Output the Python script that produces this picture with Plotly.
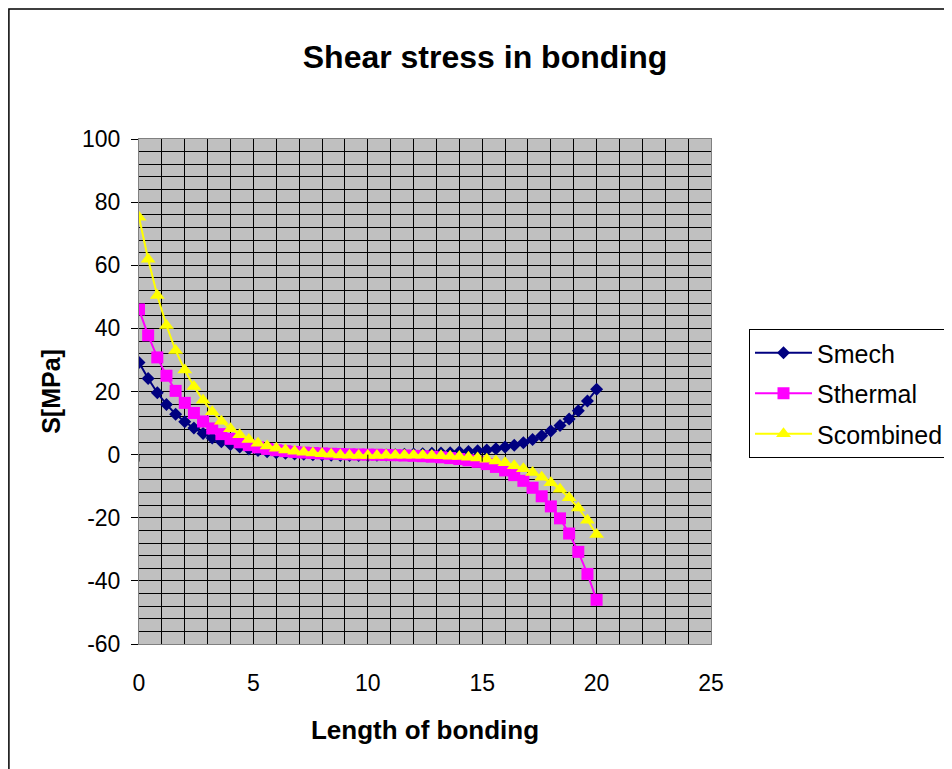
import plotly.graph_objects as go

x_len = [0, 0.4, 0.8, 1.2, 1.6, 2.0, 2.4, 2.8, 3.2, 3.6, 4.0, 4.4, 4.8, 5.2, 5.6, 6.0, 6.4, 6.8,
         7.2, 7.6, 8.0, 8.4, 8.8, 9.2, 9.6, 10.0, 10.4, 10.8, 11.2, 11.6, 12.0, 12.4, 12.8, 13.2,
         13.6, 14.0, 14.4, 14.8, 15.2, 15.6, 16.0, 16.4, 16.8, 17.2, 17.6, 18.0, 18.4, 18.8, 19.2,
         19.6, 20.0]

s_mech = [29.2, 24.1, 19.6, 15.9, 12.8, 10.4, 8.4, 6.7, 5.3, 4.1, 3.2, 2.4, 1.8, 1.3, 0.9, 0.6,
          0.4, 0.2, 0.1, 0.0, -0.1, -0.2, -0.3, -0.3, -0.3, -0.3, -0.2, -0.1, 0.0, 0.1, 0.2, 0.3,
          0.4, 0.5, 0.6, 0.8, 1.0, 1.2, 1.5, 1.9, 2.4, 3.0, 3.8, 4.8, 6.0, 7.5, 9.2, 11.3, 13.9,
          17.0, 20.7]

s_thermal = [46.0, 37.8, 30.8, 25.0, 20.2, 16.4, 13.2, 10.5, 8.3, 6.5, 5.0, 3.9, 3.0, 2.3, 1.8,
             1.4, 1.1, 0.85, 0.65, 0.5, 0.38, 0.28, 0.19, 0.1, 0.04, 0.0, -0.04, -0.1, -0.19,
             -0.28, -0.38, -0.5, -0.65, -0.85, -1.1, -1.4, -1.8, -2.3, -3.0, -3.9, -5.0, -6.5,
             -8.3, -10.5, -13.2, -16.4, -20.2, -25.0, -30.8, -37.8, -46.0]

s_combined = [75.2, 61.9, 50.4, 40.9, 33.0, 26.8, 21.6, 17.2, 13.6, 10.6, 8.2, 6.3, 4.8, 3.6,
              2.7, 2.0, 1.5, 1.05, 0.75, 0.5, 0.28, 0.08, -0.11, -0.2, -0.26, -0.3, -0.24, -0.2,
              -0.19, -0.18, -0.18, -0.2, -0.25, -0.35, -0.5, -0.6, -0.8, -1.1, -1.5, -2.0, -2.6,
              -3.5, -4.5, -5.7, -7.2, -8.9, -11.0, -13.7, -16.9, -20.8, -25.3]

series_names = ["Smech", "Sthermal", "Scombined"]
x_ticks = [0, 5, 10, 15, 20, 25]
x_ticktext = ["0", "5", "10", "15", "20", "25"]
y_ticks = [100, 80, 60, 40, 20, 0, -20, -40, -60]
y_ticktext = ["100", "80", "60", "40", "20", "0", "-20", "-40", "-60"]

FONT = "Liberation Sans, Arial, sans-serif"

fig = go.Figure()
styles = [
    dict(color="#000080", symbol="diamond", size=10),
    dict(color="#FF00FF", symbol="square", size=12),
    dict(color="#FFFF00", symbol="triangle-up", size=13),
]
for name, ys, st in zip(series_names, [s_mech, s_thermal, s_combined], styles):
    fig.add_trace(go.Scatter(
        x=x_len, y=ys, name=name, mode="lines+markers", legendgroup=name,
        line=dict(color=st["color"], width=2),
        marker=dict(color=st["color"], symbol=st["symbol"], size=st["size"], line=dict(width=0)),
    ))

# small x tick marks on the horizontal axis crossing at y = 0
for xv in x_ticks:
    fig.add_shape(type="line", xref="x", yref="y", x0=xv, x1=xv, y0=0, y1=-7,
                  ysizemode="pixel", yanchor=0,
                  line=dict(color="black", width=1), layer="above")

# outer chart border
fig.add_shape(type="rect", xref="paper", yref="paper", x0=(0.9 - 131) / 572, x1=1.45, y0=-0.3,
              y1=(636 - 1) / 505,
              line=dict(color="black", width=1.5), fillcolor="rgba(0,0,0,0)", layer="below")

fig.update_layout(
    width=952, height=769,
    margin=dict(l=131, r=249, t=131, b=133, autoexpand=False),
    paper_bgcolor="white", plot_bgcolor="#C0C0C0",
    font=dict(family=FONT, color="black", size=23),
    title=dict(text="<b>Shear stress in bonding</b>", x=477 / 952, xref="container", xanchor="center",
               y=1 - 49 / 769, yref="container", yanchor="middle",
               font=dict(family=FONT, size=32, color="black")),
    legend=dict(x=(749 - 139) / 572, xanchor="left", y=(644 - 329) / 505, yanchor="top",
                bordercolor="black", borderwidth=1, bgcolor="white",
                font=dict(family=FONT, size=25, color="black"),
                tracegroupgap=5, itemwidth=57),
    showlegend=True,
)

fig.update_xaxes(
    range=[0, 25], tickvals=x_ticks, ticktext=x_ticktext, ticks="", showgrid=True,
    gridcolor="black", gridwidth=1,
    minor=dict(dtick=1, showgrid=True, gridcolor="black", gridwidth=1, ticks=""),
    showline=True, linecolor="#808080", linewidth=1, mirror=True, zeroline=False,
    ticklabelstandoff=18,
    title=dict(text="<b>Length of bonding</b>", standoff=26,
               font=dict(family=FONT, size=26, color="black")),
)
fig.update_yaxes(
    range=[-60, 100], tickvals=y_ticks, ticktext=y_ticktext, ticks="outside", ticklen=7,
    tickcolor="black", showgrid=True, gridcolor="black", gridwidth=1,
    minor=dict(dtick=4, tick0=0, showgrid=True, gridcolor="black", gridwidth=1, ticks=""),
    showline=True, linecolor="#808080", linewidth=1, mirror=True,
    zeroline=True, zerolinecolor="black", zerolinewidth=1,
    ticklabelstandoff=6,
    title=dict(text="<b>S[MPa]</b>", standoff=14,
               font=dict(family=FONT, size=25, color="black")),
)

fig.write_html("out.html")
